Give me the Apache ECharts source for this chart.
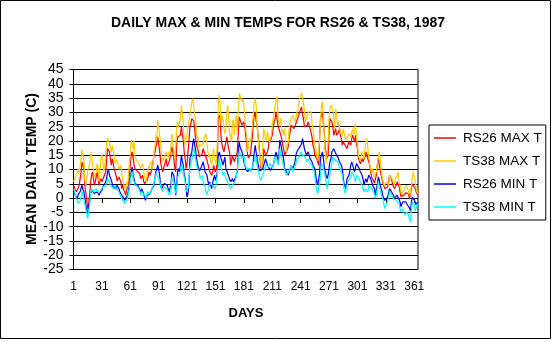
<!DOCTYPE html>
<html>
<head>
<meta charset="utf-8">
<script src="https://cdn.jsdelivr.net/npm/echarts@6/dist/echarts.min.js"></script>
<style>
html,body{margin:0;padding:0;background:#fff;}
#chart{width:556px;height:342px;}
</style>
</head>
<body>
<div id="chart"></div>
<script>
// ---- DATA ----
var titleText = 'DAILY MAX & MIN TEMPS FOR RS26 & TS38, 1987';
var yAxisTitle = 'MEAN DAILY TEMP (C)';
var xAxisTitle = 'DAYS';
var seriesNames = ['RS26 MAX T', 'TS38 MAX T', 'RS26 MIN T', 'TS38 MIN T'];
var yTicks = {min: -25, max: 45, step: 5};
var dayCount = 365;
var xLabelEvery = 30;

var rs26Max = [
4.5,3.5,3.9,2.2,2.5,3.5,4.5,6.8,9,12.7, 11.5,10,4,2.2,-1,-3.7,-2,1,5,8, 9.2,7,4.5,5.7,6,9.2,7,4.5,6,6.8, 5.7,6.2,7.4,8,9.2,13,17.3,18,16.2,14, 11.5,13.8,12,10.3,9,8,6,5.7,7.4,6.5, 5.7,3.3,
4.5,3,2.2,1,1.5,3.9,5,8,12,15, 16.2,14,11.5,10.3,10.3,9.5,9.7,9.2,8.5,6.8, 7.4,8,6,5.1,4.5,4.5,6.2,6.5,9.2,8, 8,10.3,10.3,15,16,17.9,19,21.4,19,16.7, 12.7,11,9.2,10,11.5,12.5,13.8,11,10.3,12.7, 14,16.2,
17.9,16,13.8,10.5,9.2,18.5,21.4,21,20.8,22, 24.9,22,20.3,16,13.8,10.3,12,16.2,20,24.9, 26,27.8,28.4,27,24.3,21,18.5,17.3,16.2,14.4, 13.8,14.4,15.5,17.3,16.2,16.2,14.4,13.8,12,11.5, 9.2,8.6,8,9,11.5,10,9.2,10.3,14,27.8, 29,28,
20.8,18.5,17.3,16.2,18,19.7,21.4,22,17,16.2, 11.5,13,15,13.8,12.7,13.8,14.4,16.2,22,28.4, 27.8,27.8,25.5,25,26.7,25,24.3,19,15,14, 13.8,15.5,16.2,21.4,26,29,30.2,27,25.5,22, 18.5,14,10.3,11,12.7,17.3,16,15,15.5,16.2, 18,20.8,
19.7,21,22,24.3,26.7,27.8,30.2,28,25.5,24.3, 23.2,22.5,20.8,19,17.3,15,15.5,15,17,18.5, 22,23.2,25.5,25.5,25.5,24.3,24.9,26.1,26.7,28, 29,30.2,31,31.9,29,27.8,25,24.3,25,25.5, 26.7,26,24.3,23,21.4,18.5,17.3,15,14.4,13.8, 12.7,11.5,
20.8,28,29,30.2,26,23.2,17,16.2,14,15, 23,27.8,28,26.7,25,22,23,24.3,22,22, 23,24.3,22,20.8,18.5,19.7,19.7,18.5,18.5,17.3, 18.5,19.7,19,18.5,20.8,22,20.8,19.7,22,19, 17.3,14,13.8,12,11.5,13.8,12.7,13,14.4,16.2, 15,15,
12.7,11.5,9.2,7.4,6.8,6,5.2,4.5,8,11.5, 14,12,11.5,8,6.8,5,4.5,3.3,3.5,3.3, 4,4.5,8,7.4,6.8,5,4.5,3.3,4,4.5, 5.7,5.7,4,3.3,0.5,-0.2,1,1,1,1.8, 2.2,2.2,1.5,-0.2,1.5,3.3,5,5.7,4.5,3.3, 2.2,1.5,1
];

var ts38Max = [
5.7,6.5,7.5,8,9,10.3,9,11,14,17, 17.7,13,6,4.5,7,9.7,10,12,15,16.2, 12,10,7,6.8,9,12,11,5.7,9,14, 15,13,9.5,11,16,19,21,21.4,19,17.9, 16,18.5,17,14.4,12,11.5,13.5,13.8,10,9.7, 11.5,8.6,
7,5,4.5,3,5.7,4,8,12,16,20.3, 19,17,20,14.4,15,13,12.7,12,11.5,10.3, 11,12.1,10,7.4,6.5,5.7,9,10.3,11.5,12, 12.7,10,12.1,16,17.9,22,20,27.3,27.8,22, 19.7,15,12.7,13,14.4,15,16.2,15,14,16.2, 15,15,
22.6,19,16.2,13.8,18,24.3,26.7,25,24.3,28, 32.5,33.1,26,20,18.5,20.8,22,25.5,27,29, 31,33.7,34.8,32.5,29,27.8,22,21.4,20.8,17.3, 18.5,17.9,18.5,19.1,20.8,21.4,22.6,19,16.2,14.4, 15.5,12.7,11.5,15,17.3,13.8,12.7,11.5,20,32.5, 36,33,
25.5,29,27.8,24,22.6,24.3,30,32.5,33,23, 21.4,19.7,26.7,27.5,22,27,29,23,30,36.6, 36,35,33.7,34.8,32.5,29,24,22,16.2,18, 20.8,19.7,22,25.5,30,33.7,34.8,32.5,25,21, 17.3,14,11.5,10.3,18.5,24.3,23,19.7,20.8,23.2, 21,19.7,
20,22,25.5,28,30.2,32.5,34,35.4,30,25.5, 26.7,28,23.2,24,22,24.3,20,16.2,18.5,19.7, 25,26.7,27.8,28.4,29,28,26.7,27.8,30,31.3, 33,34.8,36,36.9,35,34.8,31,26.7,27,29, 30.2,29.5,29.6,30.2,26,24.3,21,18.5,17,15, 13,12.7,
20,27,32.5,33.7,29,22,15,12,11.5,20, 28,31.3,32.5,32,31.3,27.8,24.3,31.3,29,25.5, 26.7,25,23,23.2,22,24.3,22.6,22,20.3,19.7, 21,22.6,22,21.4,23,24.3,22,24,26.1,22, 21.4,15,14.4,13,12.7,16.2,15,13.8,17,19.7, 20.8,21.4,
14.4,12,11.5,8.6,10.3,8.6,7.5,6.8,9.2,12, 13.8,16.2,14,10,8,6,4.5,3.9,4.5,5.7, 5,4.5,8,8.6,8.2,6.5,5.7,4.5,6.8,6.8, 8,9.2,6,4.5,2,1,2.2,2.7,3.3,4, 4.5,3.3,2.5,1,2,4.5,7.5,9.2,8.6,6, 3.3,2.2,1.5
];

var rs26Min = [
2.2,1.5,1,0.4,-0.2,1.2,1.6,2.2,3.5,4.5, 3,2.2,0,-2.5,-4.5,-5.4,-3,-1.3,1.6,2.2, 2.7,2.2,1.6,1,1.6,2.2,1.6,1,1.8,2.2, 2.7,3.9,3.3,3.9,5.5,7,9.2,10,8,7.4, 6.2,5,3.9,4.5,3.9,3.3,4.5,3.9,3.3,2.2, 1.6,1,
0.4,0,-0.8,-1.3,-0.5,1,2.5,4.5,7,9.2, 10.9,8,6.8,5.1,5,4.5,4.5,3.9,3,2.2, 3.3,3,1.6,1,-0.8,-0.5,1,1,0.4,1.5, 2.2,3.3,3.9,4.5,7,9.2,10,11.5,10,8, 4.5,3.3,3,3.9,5.1,5.7,5,4.5,3.3,2.2, 3.5,4.5,
9.2,9.2,8,5,1,4.5,9.2,10.3,9.2,11.5, 15,13,11.5,8,6.8,3,0.4,1.6,4.5,13.8, 15,16.2,19,20.8,18.5,17,13.8,12,11.5,9.5, 9.2,10.9,11,12.7,11,9.2,8.6,8,6,4.5, 5.7,5,3.3,4,6.8,8,6.2,7.4,9,15, 16.2,16,
13.8,12.7,11.5,13,14.4,10.3,9.5,8.6,7.5,6.8, 5.7,5.1,6.8,5.7,6,7,8,9.2,15,19.7, 18,17.3,16.2,15,12.7,11.5,10.3,9.7,9.2,9.7, 10.3,9.5,9.2,10.3,13,16.2,18.5,16,13.8,12, 10.3,9.5,9.2,10,10.3,11.5,12.1,13.8,12.5,11.5, 11.5,11.5,
9.7,9.2,9.5,11.5,12.7,15,16.2,15,12.7,15, 20.3,19,18.5,15,13.8,10.3,9.7,9.2,8.6,8, 9.5,10.3,11.5,12,10.3,11,12.7,15,16.2,16.2, 17.3,17.3,18,19,20.8,20.8,17.3,17.3,15,14.4, 16.2,15,13.8,13.2,12.7,11.5,11,10.3,8,5.7, 4.5,4.5,
8.5,14,15,16.2,13.8,11,9.2,8.5,6.8,8, 10.3,12.7,13.8,16.2,16.7,17.3,16.5,16.2,15,14.4, 13.8,12.7,12.1,11.5,10.3,9.7,4.5,3.9,3.3,6.8, 7.4,8,9.5,11.5,12.7,11.5,10.3,9.2,9.2,12.1, 12.7,11.5,10.3,9.2,8.6,8,6.5,4.5,6,6.8, 5.5,5.7,
8,7.4,6.8,5.7,4.5,4,3.3,1,3,4.5, 7.4,6.5,4.5,3.3,2.2,0.5,-0.2,-0.8,-0.5,-0.2, 0.4,1,3.3,3,2.2,1.5,1,0,-0.2,0.4, 1,1,-0.5,-1.3,-3,-2.5,-1.3,-1.5,-1.9,-1.3, -1.5,-2.5,-2.5,-3.5,-4.5,-1.5,0.4,1,0,-1.3, -2.5,-1.5,-1.9
];

var ts38Min = [
3.3,2.5,1,-0.2,-0.8,-1.9,-2.5,-1,0.4,2.2, 1,-0.2,-2,-3.7,-6,-7.2,-7.7,-2.5,1.6,3.3, 2.7,2.2,2.7,2.2,3.3,2.2,1.6,2.2,2.5,2.2, 3,3.9,3.3,4.5,4.5,5.5,6.8,7,5.7,4.5, 3.9,4.5,3.3,3.9,4.5,3.3,2.7,3.3,2.2,1.6, 0.4,-0.2,
-0.8,-1.5,-1.9,-2.5,-1.5,-0.2,1.5,3.3,6,8, 9.2,7,5.7,4.5,3.9,4.5,4,3.3,2.5,1, 2.2,1.6,1.6,1,0.4,0,2.2,2.2,2.7,1.5, 1,3.3,3.3,5.1,7,8.6,9.2,9,7,5.7, 4.5,3.3,2.2,2.7,3.9,4.5,3.9,3.3,2.2,1, 1.6,2.2,
7.4,6.8,5.7,3,1.6,3.3,7.4,8,7,9.5, 12.1,11,10.3,7,5.7,2.2,1.5,3.3,6,10.9, 12,13.3,15,17.3,16,15.5,11.5,10.5,9.7,8.5, 6.8,7.5,8,5.7,5,3.9,2.2,1,2.5,3.3, 5.1,5.7,5.7,4.5,5,3.9,3.3,5.7,8,11.5, 13.8,14,
10.3,9.5,8,9,9.2,7,6.2,5.7,4.5,3.9, 3.3,3,4.5,5,5.1,6,6.5,9.5,13,16.2, 15.5,15,13.8,14,15,12,11.5,10,9.7,10, 10.3,9.2,9.5,10.9,12,13,15,14,11.5,10, 8,7,6.2,6.5,6.8,9,10.3,11.5,11,10.9, 11,11.5,
12.1,11.5,10.3,10.9,12.7,14.4,14.4,13.5,11.5,13, 17.3,15,14.4,12.5,11.5,9.7,9.2,8,8,8.6, 9.7,10.3,11.5,10.5,9.2,10.3,10.3,12,13.8,14.4, 14,14.5,16.2,15.5,15,14.4,14.5,14.4,12.7,13.3, 13.8,12.7,12.7,12,11.5,10.3,9.5,9.2,5,2.7, 1.6,3.5,
4.5,8,12,11.5,10.5,9.2,7.5,6.8,3.3,5, 6.8,8.6,10.3,12.1,14.4,14.4,13.3,13.8,12.7,12.7, 11.5,11.5,10.3,9.7,8,7.4,3.3,1.6,1,4.5, 5.7,5.7,6.8,8,9.2,9.2,8,6.8,5.7,8, 8,7.5,6.8,5.7,5.5,4.5,4,2.2,3.3,3.9, 3,2.2,
4.5,4.5,3.9,3.3,2.7,2.2,2.2,0,1,3.3, 5.7,4,3.3,1.6,1,-0.8,-1.5,-3.7,-2.5,-2.5, -1,0.5,2.2,1.6,1,0.4,-0.2,-0.5,-0.8,-0.8, -0.8,-1.3,-2,-3.7,-4.8,-5.4,-3.7,-4,-6,-6.6, -4.8,-5.5,-6,-7.5,-8.3,-4,-1.3,-1.3,-2.5,-4.5, -3.7,-2,-2.5
];

var seriesColors = ['#FF0000', '#FFCC00', '#0000FF', '#00FFFF'];

// ---- BUILD ----
var days = [];
for (var i = 1; i <= dayCount; i++) days.push(String(i));
var allData = [rs26Max, ts38Max, rs26Min, ts38Min];
function everyN(index) { return index % xLabelEvery === 0; }

var FONT = '"Liberation Sans", Arial, sans-serif';
var chart = echarts.init(document.getElementById('chart'), null, {renderer: 'canvas'});

var graphics = [
  {type: 'rect', shape: {x: 0.5, y: 0.5, width: 550, height: 338}, style: {fill: 'none', stroke: '#000', lineWidth: 1}, z: 0, silent: true},
  {type: 'text', x: 278, y: 23, style: {text: titleText, font: 'bold 14px ' + FONT, fill: '#000', textAlign: 'center', textVerticalAlign: 'middle'}},
  {type: 'text', x: 32, y: 169, rotation: Math.PI / 2, style: {text: yAxisTitle, font: 'bold 14px ' + FONT, fill: '#000', textAlign: 'center', textVerticalAlign: 'middle'}},
  {type: 'text', x: 246, y: 313, style: {text: xAxisTitle, font: 'bold 13px ' + FONT, fill: '#000', textAlign: 'center', textVerticalAlign: 'middle'}}
];
var bad = allData.map(function (a) { return a.length; }).filter(function (n) { return n !== dayCount; });
if (bad.length) {
  graphics.push({type: 'text', x: 5, y: 5, style: {text: 'LEN ' + allData.map(function (a) { return a.length; }).join(','), fill: 'red', font: '12px sans-serif'}});
}

var option = {
  animation: false,
  backgroundColor: '#fff',
  textStyle: {fontFamily: FONT},
  grid: {left: 73.5, right: 138, top: 69.5, bottom: 72.5, show: true, borderColor: '#000', borderWidth: 1, backgroundColor: 'transparent'},
  legend: {
    orient: 'vertical',
    left: 429, top: 125,
    data: seriesNames.map(function (n) { return {name: n, icon: 'rect'}; }),
    itemWidth: 22, itemHeight: 1.5, itemGap: 9, itemStyle: {borderWidth: 0},
    padding: [6, 4, 6, 5],
    borderColor: '#000', borderWidth: 1,
    textStyle: {fontSize: 13.5, color: '#000', fontFamily: FONT, width: 82, padding: [0, 0, 0, 2]}
  },
  xAxis: {
    type: 'category',
    data: days,
    boundaryGap: false,
    axisLine: {lineStyle: {color: '#000', width: 1}},
    axisTick: {show: true, interval: everyN, length: 5, lineStyle: {color: '#000'}},
    axisLabel: {interval: everyN, fontSize: 12, color: '#000', margin: 11, fontFamily: FONT, hideOverlap: false},
    splitLine: {show: false}
  },
  yAxis: {
    type: 'value',
    min: yTicks.min, max: yTicks.max, interval: yTicks.step,
    axisLine: {show: true, lineStyle: {color: '#000', width: 1}},
    axisTick: {show: true, length: 4, lineStyle: {color: '#000'}},
    axisLabel: {fontSize: 14, color: '#000', margin: 10, fontFamily: FONT, showMinLabel: true, showMaxLabel: true},
    splitLine: {show: true, lineStyle: {color: '#000', width: 1}}
  },
  series: seriesNames.map(function (n, k) {
    return {
      name: n, type: 'line', data: allData[k], showSymbol: false, symbol: 'none',
      lineStyle: {color: seriesColors[k], width: 1.2}, itemStyle: {color: seriesColors[k]},
      z: 2 + k
    };
  }),
  graphic: graphics
};
chart.setOption(option);
</script>
</body>
</html>
